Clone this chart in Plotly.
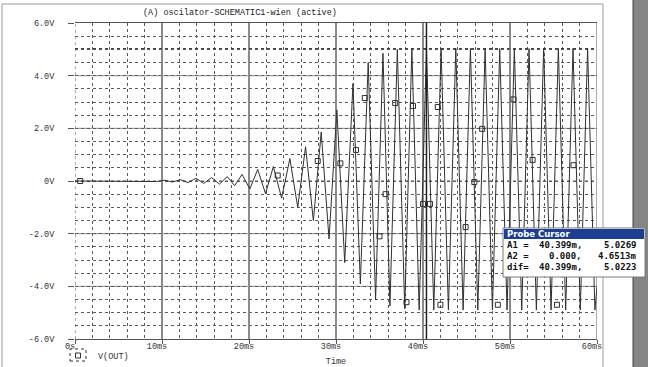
import plotly.graph_objects as go

# ---------------- data ----------------
# extrema of V(OUT): time in ms, voltage in V
t_ms = [0.0, 9.4, 10.3, 11.2, 12.1, 13.0, 13.9, 14.8, 15.7, 16.6, 17.5,
        18.35, 19.2, 20.1, 21.0, 21.9, 22.8, 23.75, 24.7, 25.6, 26.5,
        27.4, 28.3, 29.2, 30.1, 31.0, 31.95, 32.8, 33.7, 34.55, 35.4,
        36.2, 37.05, 37.9, 38.72, 39.56, 40.40, 41.24, 42.08, 42.92, 43.77,
        44.61, 45.45, 46.3, 47.14, 47.98, 48.82, 49.66, 50.50, 51.35, 52.19,
        53.03, 53.87, 54.72, 55.56, 56.40, 57.24, 58.08, 58.92, 59.76, 60.0]
v_out = [0.0, -0.02, 0.03, -0.04, 0.05, -0.06, 0.10, -0.09, 0.13, -0.12, 0.17,
         -0.18, 0.25, -0.30, 0.44, -0.48, 0.55, -0.65, 0.85, -1.00, 1.30,
         -1.50, 1.86, -2.20, 2.70, -3.10, 3.70, -3.90, 4.50, -4.50, 4.85,
         -4.75, 5.00, -4.85, 5.03, -4.90, 5.03, -4.90, 5.03, -4.90, 5.03,
         -4.90, 5.03, -4.90, 5.03, -4.90, 5.03, -4.90, 5.03, -4.90, 5.03,
         -4.90, 5.03, -4.90, 5.03, -4.90, 5.03, -4.90, 5.03, -4.90, -4.0]

# square trace markers
marker_t = [0.6, 23.3, 27.9, 30.5, 32.3, 33.3, 35.0, 35.7, 36.8, 38.1, 38.85,
            40.0, 40.8, 41.7, 42.0, 44.9, 45.9, 46.8, 48.6, 50.4, 52.6, 55.4, 57.3]
marker_v = [0.0, 0.21, 0.76, 0.67, 1.18, 3.15, -2.1, -0.5, 2.96, -4.6, 2.85,
            -0.87, -0.87, 2.81, -4.7, -1.75, -0.04, 1.98, -4.7, 3.1, 0.8, -4.7, 0.6]

x_ticks = [0, 10, 20, 30, 40, 50, 60]
x_labels = ["0s", "10ms", "20ms", "30ms", "40ms", "50ms", "60ms"]
y_ticks = [-6, -4, -2, 0, 2, 4, 6]
y_labels = ["-6.0V", "-4.0V", "-2.0V", "0V", "2.0V", "4.0V", "6.0V"]
solid_h_grid = [-4, -2, 2, 4]
dotted_h_grid = [0]

title_text = "(A) oscilator-SCHEMATIC1-wien (active)"
cursor_names = ["A1 =", "A2 =", "dif="]
cursor_x_text = ["40.399m,", "0.000,", "40.399m,"]
cursor_y_text = ["5.0269", "4.6513m", "5.0223"]
cursor_t = 40.399
cursor_v = 5.0269

# ---------------- figure ----------------
W, H = 648, 367
L, R, T, B = 75, 597, 23, 339
MONO = "Liberation Mono"
FS = 8.5
GRID = "#8a8a8a"
MINOR = "#5a5a5a"
AXIS = "#555555"


def px(x):
    return (x - L) / (R - L)


def py(y):
    return (B - y) / (B - T)


fig = go.Figure()

for v in solid_h_grid:
    fig.add_shape(type="line", x0=0, x1=60, y0=v, y1=v, xref="x", yref="y",
                  line=dict(color=GRID, width=1), layer="below")
for v in dotted_h_grid:
    fig.add_shape(type="line", x0=0, x1=60, y0=v, y1=v, xref="x", yref="y",
                  line=dict(color=MINOR, width=1, dash="dot"), layer="below")
# left edge dotted, right edge solid
fig.add_shape(type="line", x0=0, x1=0, y0=-6, y1=6, xref="x", yref="y",
              line=dict(color=MINOR, width=1, dash="dot"), layer="below")
fig.add_shape(type="line", x0=60, x1=60, y0=-6, y1=6, xref="x", yref="y",
              line=dict(color=AXIS, width=1))

fig.add_trace(go.Scatter(x=t_ms, y=v_out, mode="lines",
                         line=dict(color="#303030", width=1),
                         showlegend=False, hoverinfo="skip"))
fig.add_trace(go.Scatter(x=marker_t, y=marker_v, mode="markers", name="V(OUT)",
                         marker=dict(symbol="square-open", size=5,
                                     color="#303030", line=dict(width=1)),
                         showlegend=True))

# cursor crosshair
fig.add_shape(type="line", x0=cursor_t, x1=cursor_t, y0=-6, y1=6, xref="x", yref="y",
              line=dict(color="#202020", width=1.5))
fig.add_shape(type="line", x0=0, x1=60, y0=cursor_v, y1=cursor_v, xref="x", yref="y",
              line=dict(color="#303030", width=1, dash="dot"))

fig.update_layout(
    width=W, height=H, autosize=False,
    margin=dict(l=L, r=W - R, t=T, b=H - B, pad=0, autoexpand=False),
    paper_bgcolor="white", plot_bgcolor="white",
    font=dict(family=MONO, size=FS, color="#333333"),
    showlegend=True,
    legend=dict(x=px(58), y=py(341), xanchor="left", yanchor="top",
                bgcolor="rgba(0,0,0,0)", itemwidth=30, borderwidth=0,
                font=dict(family=MONO, size=FS, color="#333333")),
)
fig.update_xaxes(range=[0, 60], tickvals=x_ticks, ticktext=x_labels,
                 showgrid=True, gridcolor=GRID, gridwidth=1.5,
                 minor=dict(dtick=2, showgrid=True, gridcolor=MINOR, griddash="dot",
                            gridwidth=1),
                 showline=True, linecolor=AXIS, linewidth=1, mirror=True,
                 ticks="outside", ticklen=4, tickcolor=AXIS,
                 zeroline=False, ticklabelshift=-5, ticklabelstandoff=-5,
                 automargin=False,
                 tickfont=dict(family=MONO, size=FS, color="#333333"),
                 title=dict(text="Time", standoff=26,
                            font=dict(family=MONO, size=FS, color="#333333")))
fig.update_yaxes(range=[-6, 6], tickvals=y_ticks, ticktext=y_labels,
                 showgrid=False,
                 minor=dict(dtick=0.5, showgrid=True, gridcolor=MINOR, griddash="dot",
                            gridwidth=1),
                 showline=False,
                 ticks="outside", ticklen=6, tickcolor=AXIS,
                 zeroline=False, ticklabelstandoff=12, automargin=False,
                 tickfont=dict(family=MONO, size=FS, color="#333333"))

# window frame and right scroll area
fig.add_shape(type="rect", xref="paper", yref="paper",
              x0=px(2), x1=px(603), y0=py(380), y1=py(4),
              line=dict(color="#9a9a9a", width=1), fillcolor="rgba(0,0,0,0)", layer="below")
fig.add_shape(type="rect", xref="paper", yref="paper",
              x0=px(633), x1=px(650), y0=py(380), y1=py(-5),
              line=dict(color="#404040", width=1), fillcolor="#858585")

# legend box (dashed) around the symbol
fig.add_shape(type="rect", xref="paper", yref="paper",
              x0=px(70), x1=px(86), y0=py(361), y1=py(349),
              line=dict(color="#333333", width=1, dash="dot"), fillcolor="rgba(0,0,0,0)")

# title
fig.add_annotation(text=title_text, xref="paper", yref="paper",
                   x=px(240), y=py(13),
                   showarrow=False, xanchor="center", yanchor="middle",
                   font=dict(family=MONO, size=FS, color="#222222"))

# probe cursor window
bx0, bx1, by0, by1 = 503, 645, 228, 277
fig.add_shape(type="rect", xref="paper", yref="paper",
              x0=px(bx0), x1=px(bx1), y0=py(by1), y1=py(by0),
              line=dict(color="#7a7a7a", width=1), fillcolor="white")
fig.add_shape(type="rect", xref="paper", yref="paper",
              x0=px(bx0 + 1), x1=px(bx1 - 1), y0=py(239), y1=py(by0 + 1),
              line=dict(width=0), fillcolor="#1c3f94")
fig.add_annotation(text="<b>Probe Cursor</b>", xref="paper", yref="paper",
                   x=px(505), y=py(233.5),
                   showarrow=False, xanchor="left", yanchor="middle",
                   font=dict(family="DejaVu Sans", size=8.5, color="white"))
for i in range(3):
    yy = py(245 + 11 * i)
    fig.add_annotation(text="<b>" + cursor_names[i] + "</b>", xref="paper", yref="paper",
                       x=px(505), y=yy, showarrow=False, xanchor="left", yanchor="middle",
                       font=dict(family="DejaVu Sans Mono", size=9, color="#111111"))
    fig.add_annotation(text="<b>" + cursor_x_text[i] + "</b>", xref="paper", yref="paper",
                       x=px(584), y=yy, showarrow=False, xanchor="right", yanchor="middle",
                       font=dict(family="DejaVu Sans Mono", size=9, color="#111111"))
    fig.add_annotation(text="<b>" + cursor_y_text[i] + "</b>", xref="paper", yref="paper",
                       x=px(639), y=yy, showarrow=False, xanchor="right", yanchor="middle",
                       font=dict(family="DejaVu Sans Mono", size=9, color="#111111"))

fig.write_html("out.html")
